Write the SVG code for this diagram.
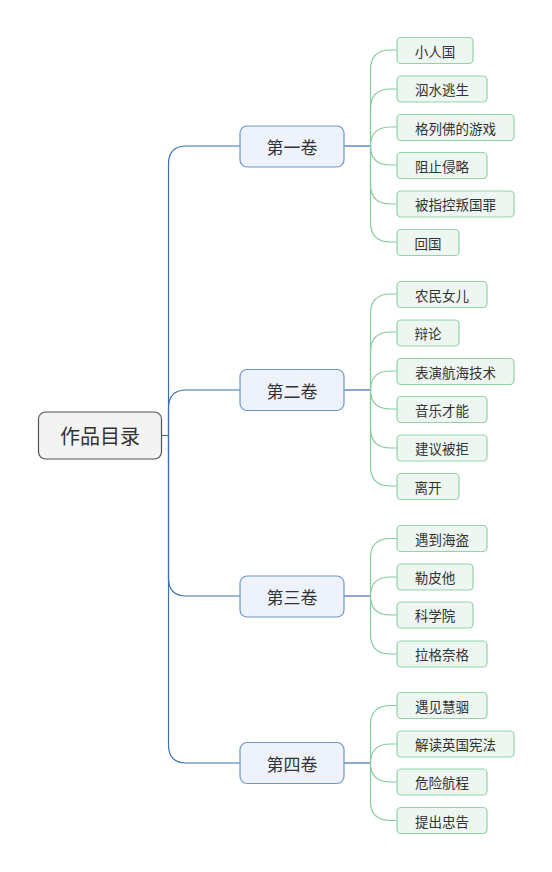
<svg xmlns="http://www.w3.org/2000/svg" width="552" height="872" viewBox="0 0 552 872">
<style>
text{font-family:"Noto Sans CJK SC","Noto Sans",sans-serif;fill:#333;text-anchor:middle;dominant-baseline:central}
.root rect{fill:#f3f3f3;stroke:#555;stroke-width:1.2}
.root text{font-size:20px}
.l1 rect{fill:#eef3fb;stroke:#6e97c9;stroke-width:1.2}
.l1 text{font-size:17px}
.l2 rect{fill:#edf6f0;stroke:#92d3a9;stroke-width:1.2}
.l2 text{font-size:13.5px}
.c1{fill:none;stroke:#3a6fb2;stroke-width:1.2}
.c2{fill:none;stroke:#86cd9e;stroke-width:1.2}
</style>
<g id="connectors">
<path class="c1" d="M161,435.5H168.5"/>
<path class="c1" d="M168.5,435.5V164 Q168.5,146 186.5,146H240"/>
<path class="c1" d="M168.5,435.5V408 Q168.5,390 186.5,390H240"/>
<path class="c1" d="M168.5,435.5V578 Q168.5,596 186.5,596H240"/>
<path class="c1" d="M168.5,435.5V745 Q168.5,763 186.5,763H240"/>
<path class="c1" d="M344,146H370.5"/>
<path class="c1" d="M344,390H370.5"/>
<path class="c1" d="M344,596H370.5"/>
<path class="c1" d="M344,763H370.5"/>
<!-- group 1 -->
<path class="c2" d="M370.5,146V70 Q370.5,50 390.5,50H397"/>
<path class="c2" d="M370.5,146V109 Q370.5,89 390.5,89H397"/>
<path class="c2" d="M370.5,146 Q370.5,127 390.5,127H397"/>
<path class="c2" d="M370.5,146 Q370.5,165 390.5,165H397"/>
<path class="c2" d="M370.5,146V184 Q370.5,204 390.5,204H397"/>
<path class="c2" d="M370.5,146V222 Q370.5,242 390.5,242H397"/>
<!-- group 2 -->
<path class="c2" d="M370.5,390V314 Q370.5,294 390.5,294H397"/>
<path class="c2" d="M370.5,390V352 Q370.5,332 390.5,332H397"/>
<path class="c2" d="M370.5,390 Q370.5,371 390.5,371H397"/>
<path class="c2" d="M370.5,390 Q370.5,409 390.5,409H397"/>
<path class="c2" d="M370.5,390V428 Q370.5,448 390.5,448H397"/>
<path class="c2" d="M370.5,390V466 Q370.5,486 390.5,486H397"/>
<!-- group 3 -->
<path class="c2" d="M370.5,596V558 Q370.5,538.5 390.5,538.5H397"/>
<path class="c2" d="M370.5,596 Q370.5,577 390.5,577H397"/>
<path class="c2" d="M370.5,596 Q370.5,615 390.5,615H397"/>
<path class="c2" d="M370.5,596V634 Q370.5,654 390.5,654H397"/>
<!-- group 4 -->
<path class="c2" d="M370.5,763V725 Q370.5,705.5 390.5,705.5H397"/>
<path class="c2" d="M370.5,763 Q370.5,744 390.5,744H397"/>
<path class="c2" d="M370.5,763 Q370.5,782 390.5,782H397"/>
<path class="c2" d="M370.5,763V801 Q370.5,820.5 390.5,820.5H397"/>
</g>
<g id="root" class="root"><rect x="38.5" y="412" width="123" height="47" rx="7"/><text x="100" y="435.5">作品目录</text></g>
<g id="v1" class="l1"><rect x="240" y="126" width="104" height="41" rx="7"/><text x="292" y="146.5">第一卷</text></g>
<g id="v2" class="l1"><rect x="240" y="369.5" width="104" height="41" rx="7"/><text x="292" y="390">第二卷</text></g>
<g id="v3" class="l1"><rect x="240" y="576" width="104" height="41" rx="7"/><text x="292" y="596.5">第三卷</text></g>
<g id="v4" class="l1"><rect x="240" y="742.5" width="104" height="41" rx="7"/><text x="292" y="763">第四卷</text></g>

<g id="n1" class="l2"><rect x="397" y="37.5" width="76" height="26" rx="4"/><text x="435" y="50.5">小人国</text></g>
<g id="n2" class="l2"><rect x="397" y="76" width="90" height="26" rx="4"/><text x="442" y="89">泅水逃生</text></g>
<g id="n3" class="l2"><rect x="397" y="114.5" width="117" height="26" rx="4"/><text x="455.5" y="127.5">格列佛的游戏</text></g>
<g id="n4" class="l2"><rect x="397" y="152.5" width="90" height="26" rx="4"/><text x="442" y="165.5">阻止侵略</text></g>
<g id="n5" class="l2"><rect x="397" y="191" width="117" height="26" rx="4"/><text x="455.5" y="204">被指控叛国罪</text></g>
<g id="n6" class="l2"><rect x="397" y="229.5" width="62" height="26" rx="4"/><text x="428" y="242.5">回国</text></g>

<g id="n7" class="l2"><rect x="397" y="281.5" width="90" height="26" rx="4"/><text x="442" y="294.5">农民女儿</text></g>
<g id="n8" class="l2"><rect x="397" y="320" width="62" height="26" rx="4"/><text x="428" y="333">辩论</text></g>
<g id="n9" class="l2"><rect x="397" y="358.5" width="117" height="26" rx="4"/><text x="455.5" y="371.5">表演航海技术</text></g>
<g id="n10" class="l2"><rect x="397" y="396.5" width="90" height="26" rx="4"/><text x="442" y="409.5">音乐才能</text></g>
<g id="n11" class="l2"><rect x="397" y="435" width="90" height="26" rx="4"/><text x="442" y="448">建议被拒</text></g>
<g id="n12" class="l2"><rect x="397" y="473.5" width="62" height="26" rx="4"/><text x="428" y="486.5">离开</text></g>

<g id="n13" class="l2"><rect x="397" y="525.5" width="90" height="26" rx="4"/><text x="442" y="538.5">遇到海盗</text></g>
<g id="n14" class="l2"><rect x="397" y="564" width="76" height="26" rx="4"/><text x="435" y="577">勒皮他</text></g>
<g id="n15" class="l2"><rect x="397" y="602" width="76" height="26" rx="4"/><text x="435" y="615">科学院</text></g>
<g id="n16" class="l2"><rect x="397" y="641" width="90" height="26" rx="4"/><text x="442" y="654">拉格奈格</text></g>

<g id="n17" class="l2"><rect x="397" y="692.5" width="90" height="26" rx="4"/><text x="442" y="705.5">遇见慧骃</text></g>
<g id="n18" class="l2"><rect x="397" y="731" width="117" height="26" rx="4"/><text x="455.5" y="744">解读英国宪法</text></g>
<g id="n19" class="l2"><rect x="397" y="769" width="90" height="26" rx="4"/><text x="442" y="782">危险航程</text></g>
<g id="n20" class="l2"><rect x="397" y="807.5" width="90" height="26" rx="4"/><text x="442" y="820.5">提出忠告</text></g>
</svg>
